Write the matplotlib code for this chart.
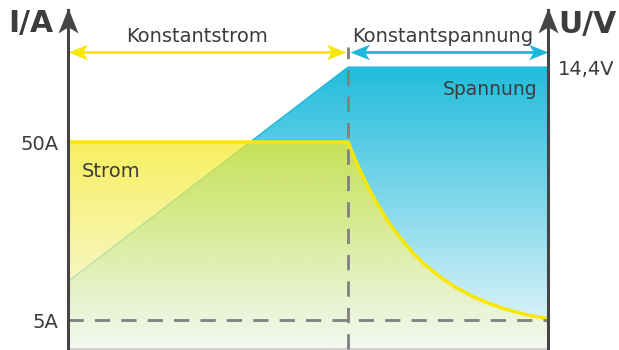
import matplotlib.pyplot as plt
import numpy as np
from matplotlib.path import Path

plt.rcParams['font.family'] = 'DejaVu Sans'

# Ladekurve, Zeit in Stunden
t_umschalt = 7.0
t_ende = 12.0
strom_t = [0, 7.0, 7.15, 7.3, 7.45, 7.6, 7.8, 8.05, 8.25, 8.45, 8.65, 8.9,
           9.3, 9.7, 10.15, 10.55, 10.95, 11.4, 12.0]
strom_a = [50, 50, 46.3, 42.8, 39.7, 36.7, 33.2, 29.2, 26.5, 24.0, 21.7, 19.2,
           15.9, 13.2, 10.8, 9.1, 7.7, 6.5, 5.3]
spannung_t = [0, 7.0, 12.0]
spannung_v = [12.0, 14.4, 14.4]
strom_ticks = [50, 5]
spannung_ticks = [14.4]
phasen = ['Konstantstrom', 'Konstantspannung']

W, H = 619, 350
TEXT = '#3c3c3c'
ACHSE = '#454545'
STRICH = '#808080'
GELB = '#f8e800'
BLAU = '#1fb8dc'


def px(x, y):
    # Pixel (von oben links) -> Figure-Koordinaten
    return x / W, 1 - y / H


def pfeilspitze(richtung):
    # Pfeilspitze mit eingezogener Rueckseite, Spitze im Ursprung
    v = np.array([[0, 0], [0.4, -1], [0, -0.75], [-0.4, -1], [0, 0]])
    if richtung == 'rechts':
        v = np.column_stack([v[:, 1], -v[:, 0]])
    elif richtung == 'links':
        v = np.column_stack([-v[:, 1], v[:, 0]])
    codes = [Path.MOVETO, Path.LINETO, Path.LINETO, Path.LINETO, Path.CLOSEPOLY]
    return Path(v, codes)


def verlauf(ax, x, y, unten, c_oben, c_unten, alpha, zorder):
    # vertikaler Farbverlauf, auf die Flaeche unter der Kurve beschnitten
    n = 256
    f = np.linspace(0, 1, n)[:, None, None]
    rgb = (1 - f) * np.array(c_oben) / 255 + f * np.array(c_unten) / 255
    rgba = np.concatenate([rgb, np.full((n, 1, 1), alpha)], axis=2)
    flaeche = ax.fill_between(x, y, unten, facecolor='none', edgecolor='none')
    img = ax.imshow(rgba, extent=(x[0], x[-1], unten, max(y)), aspect='auto',
                    origin='upper', zorder=zorder, interpolation='bilinear')
    img.set_clip_path(flaeche.get_paths()[0], ax.transData)


fig = plt.figure(figsize=(W / 100, H / 100), dpi=100)
ax = fig.add_axes([68 / W, 1.5 / H, 480 / W, 338.5 / H])   # Spannung
ax2 = ax.twinx()                                            # Strom

v_lim = (11.25, 15.04)
i_lim = (-2.2, 83.37)
ax.set_xlim(0, t_ende)
ax.set_ylim(*v_lim)
ax2.set_ylim(*i_lim)

# Spannung (blau), liegt unter dem Strom
verlauf(ax, spannung_t, spannung_v, v_lim[0], (32, 188, 220), (236, 247, 251), 1.0, 1)
ax.plot(spannung_t, spannung_v, color=BLAU, lw=1, zorder=2)

# Strom (gelb, halbtransparent)
verlauf(ax2, strom_t, strom_a, i_lim[0], (245, 234, 30), (245, 249, 238), 0.72, 1)
ax2.plot(strom_t, strom_a, color=GELB, lw=2.5, zorder=3, solid_joinstyle='round')

# gestrichelte Hilfslinien
trans = ax2.get_xaxis_transform()
ax2.axhline(strom_ticks[-1], color=STRICH, lw=2, ls=(0, (5.5, 4)), zorder=4)
ax2.plot([t_umschalt, t_umschalt], [0, 0.891], transform=trans, color=STRICH,
         lw=2, ls=(0, (5.5, 4)), zorder=4, clip_on=False)

# Phasenpfeile oben
yp = 0.876
ax2.plot([0.2, t_umschalt - 0.2], [yp, yp], transform=trans, color=GELB, lw=2, zorder=5)
ax2.plot([t_umschalt + 0.2, t_ende - 0.2], [yp, yp], transform=trans, color=BLAU, lw=2, zorder=5)
for x, farbe, r in [(0, GELB, 'links'), (t_umschalt - 0.04, GELB, 'rechts'),
                    (t_umschalt + 0.05, BLAU, 'links'), (t_ende, BLAU, 'rechts')]:
    ax2.plot(x, yp, transform=trans, marker=pfeilspitze(r), ms=28, color=farbe,
             mew=0, zorder=6, clip_on=False)

# Achsen mit Pfeilspitzen
for s in ax.spines.values():
    s.set_visible(False)
ax2.spines['top'].set_visible(False)
for s in ['left', 'right']:
    ax2.spines[s].set_color(ACHSE)
    ax2.spines[s].set_linewidth(2.2)
    ax2.spines[s].set_zorder(6)
ax2.spines['bottom'].set_color('#c8c8c8')
ax2.spines['bottom'].set_linewidth(1.2)
for x in [0, 1]:
    ax2.plot(x, 1.006, transform=ax2.transAxes, marker=pfeilspitze('oben'), ms=36,
             color=ACHSE, mew=0, zorder=7, clip_on=False)

# Beschriftung der Achsen
ax.set_xticks([])
ax.yaxis.tick_right()
ax.set_yticks(spannung_ticks, labels=[f'{v:g}V'.replace('.', ',') for v in spannung_ticks])
ax.tick_params(axis='y', length=0, pad=7, labelsize=14, labelcolor=TEXT)
ax2.yaxis.tick_left()
ax2.set_yticks(strom_ticks, labels=[f'{a:g}A' for a in strom_ticks])
ax2.tick_params(axis='y', length=0, pad=7, labelsize=14, labelcolor=TEXT)

fig.text(*px(53, 32), 'I/A', ha='right', va='baseline', fontsize=21.5,
         weight='bold', color=TEXT)
fig.text(*px(558, 33), 'U/V', ha='left', va='baseline', fontsize=21.5,
         weight='bold', color=TEXT)
fig.text(*px(197, 42), phasen[0], ha='center', va='baseline', fontsize=14, color=TEXT)
fig.text(*px(443, 42), phasen[1], ha='center', va='baseline', fontsize=14, color=TEXT)
fig.text(*px(537, 95), 'Spannung', ha='right', va='baseline', fontsize=13.5,
         color=TEXT, zorder=10)
fig.text(*px(82, 177), 'Strom', ha='left', va='baseline', fontsize=14,
         color=TEXT, zorder=10)

plt.savefig('out.png', dpi=100)
